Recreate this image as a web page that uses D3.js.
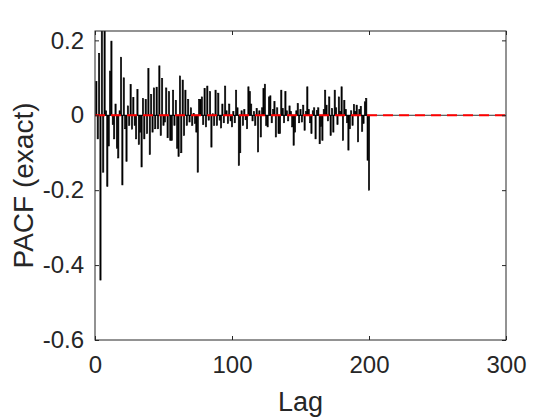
<!DOCTYPE html>
<html>
<head>
<meta charset="utf-8">
<script src="https://cdn.jsdelivr.net/npm/d3@7"></script>
<style>
  body { margin: 0; background: #fff; }
  text { font-family: Arial, "Liberation Sans", sans-serif; fill: #262626; }
</style>
</head>
<body>
<script>
// partial autocorrelation per lag, lag 1 first (lags 201..300 are zero)
const pacf = [
  0.09, -0.063, 0.165, -0.44, 0.30, -0.152, 0.30, 0.012, -0.19, -0.082,
  0.118, 0.198, -0.025, -0.063, 0.03, -0.088, -0.114, 0.012, 0.155, -0.186,
  0.10, -0.036, -0.123, 0.025, -0.027, 0.082, -0.037, 0.048, -0.027, -0.063,
  0.069, -0.078, -0.045, -0.138, 0.045, -0.063, 0.042, -0.049, 0.125, -0.105,
  0.055, -0.045, 0.073, -0.036, 0.075, -0.036, 0.132, -0.054, 0.098, -0.027,
  -0.018, 0.073, -0.06, 0.063, -0.067, -0.067, 0.067, -0.027, 0.04, -0.088,
  -0.11, 0.105, -0.1, 0.094, -0.054, 0.067, -0.027, 0.042, -0.018, 0.02,
  -0.027, 0.005, -0.022, -0.045, -0.152, 0.042, 0.042, 0.049, -0.025, 0.072,
  -0.031, 0.078, -0.013, 0.063, -0.085, 0.004, -0.027, 0.067, -0.027, 0.059,
  -0.013, -0.034, 0.03, -0.02, 0.078, 0.012, -0.022, 0.03, -0.015, -0.031,
  0.01, -0.02, 0.067, 0.02, -0.134, -0.1, 0.012, -0.027, 0.015, -0.012,
  -0.036, 0.076, 0.063, 0.03, -0.015, 0.01, -0.027, 0.018, -0.098, 0.012,
  -0.058, 0.02, 0.071, 0.083, -0.027, -0.031, 0.049, 0.052, -0.02, 0.015,
  0.037, -0.058, 0.02, -0.049, -0.049, 0.067, 0.018, -0.02, 0.063, 0.012,
  -0.015, 0.025, 0.01, -0.031, -0.08, -0.045, 0.012, 0.031, -0.02, 0.015,
  -0.018, 0.027, -0.04, 0.01, 0.076, 0.015, -0.02, -0.049, 0.012, 0.02,
  -0.063, 0.013, 0.02, -0.076, -0.03, -0.067, 0.015, 0.067, 0.027, -0.015,
  0.049, -0.054, 0.018, -0.045, 0.067, 0.02, -0.025, 0.049, 0.01, 0.076,
  -0.067, 0.04, 0.015, -0.02, -0.093, -0.036, 0.012, -0.027, 0.029, 0.01,
  0.027, -0.071, 0.015, 0.024, -0.043, -0.022, 0.036, 0.045, -0.12, -0.2
]
const xTicks = [0, 100, 200, 300]
const yTicks = [-0.6, -0.4, -0.2, 0, 0.2]
const xDomain = [0, 300]
const yDomain = [-0.6, 0.225]

const width = 560
const height = 420
const margin = {top: 31, right: 54, bottom: 80, left: 95}

const bars = pacf.map((v, i) => ({lag: i + 1, value: v}))

const x = d3.scaleLinear().domain(xDomain).range([margin.left, width - margin.right])
const y = d3.scaleLinear().domain(yDomain).range([height - margin.bottom, margin.top])

const svg = d3.select('body').append('svg')
  .attr('width', width)
  .attr('height', height)

svg.append('clipPath').attr('id', 'plot')
  .append('rect')
  .attr('x', margin.left)
  .attr('y', margin.top)
  .attr('width', width - margin.left - margin.right)
  .attr('height', height - margin.top - margin.bottom)

const barW = x(0.9) - x(0)

const plot = svg.append('g').attr('clip-path', 'url(#plot)')

plot.append('g')
  .selectAll('rect')
  .data(bars)
  .join('rect')
  .attr('x', d => x(d.lag - 0.45))
  .attr('width', barW)
  .attr('y', d => y(Math.max(0, d.value)))
  .attr('height', d => Math.abs(y(d.value) - y(0)))
  .attr('fill', '#000')
  .attr('stroke', '#000')
  .attr('stroke-width', 0.6)

// bar baseline
plot.append('line')
  .attr('x1', x(xDomain[0])).attr('x2', x(xDomain[1]))
  .attr('y1', y(0)).attr('y2', y(0))
  .attr('stroke', '#000')
  .attr('stroke-width', 0.8)

// red dashed zero line
plot.append('line')
  .attr('x1', x(xDomain[0])).attr('x2', x(xDomain[1]))
  .attr('y1', y(0)).attr('y2', y(0))
  .attr('stroke', '#ff0000')
  .attr('stroke-width', 2)
  .attr('stroke-dasharray', '10,6')

const fmt = d => d === 0 ? '0' : String(d)

const styleAxis = g => {
  g.select('.domain').remove()
  g.selectAll('line').attr('stroke', '#262626')
  g.selectAll('text').attr('fill', '#262626').attr('font-size', 24)
    .attr('font-family', 'Arial, "Liberation Sans", sans-serif')
}

svg.append('g')
  .attr('transform', `translate(0,${height - margin.bottom})`)
  .call(d3.axisBottom(x).tickValues(xTicks).tickSize(-4).tickPadding(16).tickFormat(fmt))
  .call(styleAxis)

svg.append('g')
  .attr('transform', `translate(0,${margin.top})`)
  .call(d3.axisTop(x).tickValues(xTicks).tickSize(-4).tickFormat(''))
  .call(styleAxis)

svg.append('g')
  .attr('transform', `translate(${margin.left},0)`)
  .call(d3.axisLeft(y).tickValues(yTicks).tickSize(-4).tickPadding(11).tickFormat(fmt))
  .call(styleAxis)

svg.append('g')
  .attr('transform', `translate(${width - margin.right},0)`)
  .call(d3.axisRight(y).tickValues(yTicks).tickSize(-4).tickFormat(''))
  .call(styleAxis)

// box
svg.append('rect')
  .attr('x', margin.left)
  .attr('y', margin.top)
  .attr('width', width - margin.left - margin.right)
  .attr('height', height - margin.top - margin.bottom)
  .attr('fill', 'none')
  .attr('stroke', '#262626')
  .attr('stroke-width', 1)

svg.append('text')
  .attr('x', (x(xDomain[0]) + x(xDomain[1])) / 2)
  .attr('y', 411)
  .attr('text-anchor', 'middle')
  .attr('font-size', 27)
  .text('Lag')

svg.append('text')
  .attr('transform', `translate(33,${(y(yDomain[0]) + y(yDomain[1])) / 2}) rotate(-90)`)
  .attr('text-anchor', 'middle')
  .attr('font-size', 28)
  .text('PACF (exact)')
</script>
</body>
</html>
